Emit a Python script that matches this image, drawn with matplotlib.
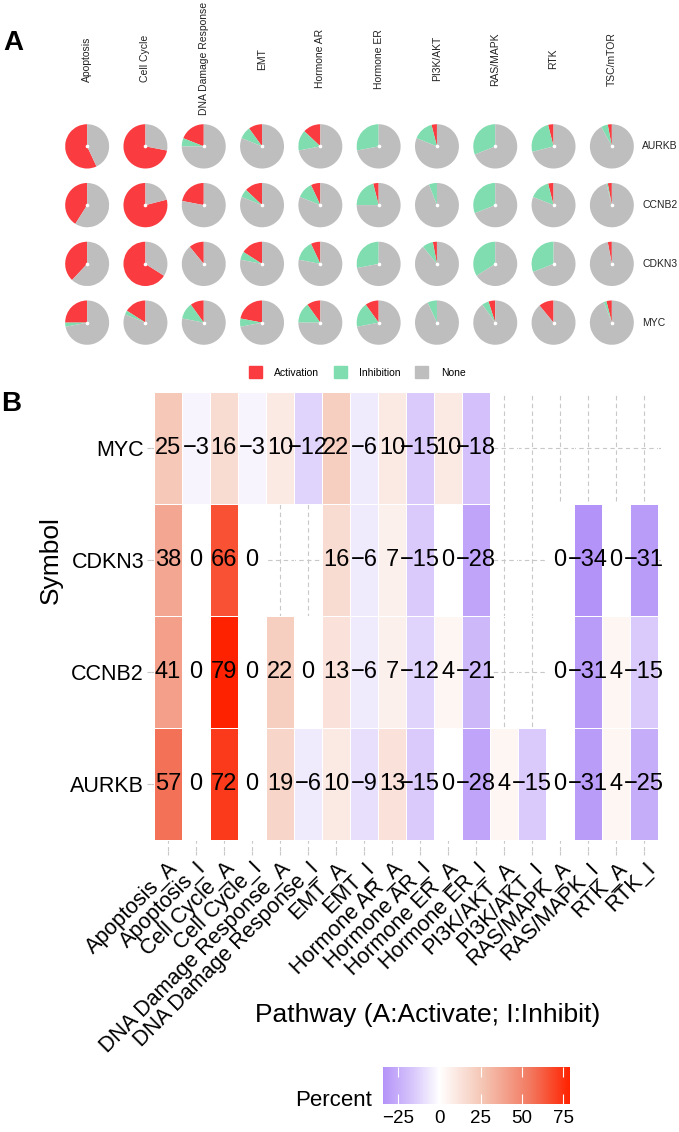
import numpy as np
import matplotlib
matplotlib.use('Agg')
import matplotlib.pyplot as plt
from matplotlib.patches import Patch
from matplotlib.colors import LinearSegmentedColormap, Normalize
from matplotlib.cm import ScalarMappable

plt.rcParams['font.family'] = ['Liberation Sans', 'DejaVu Sans']

# ---- data ----
genes = ['AURKB', 'CCNB2', 'CDKN3', 'MYC']
pathways = ['Apoptosis', 'Cell Cycle', 'DNA Damage Response', 'EMT', 'Hormone AR',
            'Hormone ER', 'PI3K/AKT', 'RAS/MAPK', 'RTK', 'TSC/mTOR']

# panel A: percent activation / inhibition per gene (rows) and pathway (cols)
pie_act = [[57, 72, 19, 10, 13, 0, 4, 0, 4, 3],
           [41, 79, 22, 13, 7, 4, 0, 0, 4, 3],
           [38, 66, 11, 16, 7, 0, 3, 0, 0, 3],
           [25, 16, 10, 22, 10, 10, 0, 5, 11, 4]]
pie_inh = [[0, 0, 6, 9, 15, 28, 15, 31, 25, 5],
           [0, 0, 0, 6, 12, 21, 6, 31, 15, 1],
           [0, 0, 0, 6, 15, 28, 8, 34, 31, 0],
           [3, 3, 12, 6, 15, 18, 7, 5, 0, 2]]

# panel B heatmap
heat_cols = ['Apoptosis_A', 'Apoptosis_I', 'Cell Cycle_A', 'Cell Cycle_I',
             'DNA Damage Response_A', 'DNA Damage Response_I', 'EMT_A', 'EMT_I',
             'Hormone AR_A', 'Hormone AR_I', 'Hormone ER_A', 'Hormone ER_I',
             'PI3K/AKT_A', 'PI3K/AKT_I', 'RAS/MAPK_A', 'RAS/MAPK_I', 'RTK_A', 'RTK_I']
nan = np.nan
heat_rows = ['AURKB', 'CCNB2', 'CDKN3', 'MYC']
aurkb = [57, 0, 72, 0, 19, -6, 10, -9, 13, -15, 0, -28, 4, -15, 0, -31, 4, -25]
ccnb2 = [41, 0, 79, 0, 22, 0, 13, -6, 7, -12, 4, -21, nan, nan, 0, -31, 4, -15]
cdkn3 = [38, 0, 66, 0, nan, nan, 16, -6, 7, -15, 0, -28, nan, nan, 0, -34, 0, -31]
myc = [25, -3, 16, -3, 10, -12, 22, -6, 10, -15, 10, -18, nan, nan, nan, nan, nan, nan]
cbar_ticks = [-25, 0, 25, 50, 75]

# ---- styling ----
W, H = 679, 1132
RED, GREEN, GREY = '#FA3C41', '#7FDDB0', '#BEBEBE'


def fx(x):
    return x / W


def fy(y):
    return 1 - y / H


fig = plt.figure(figsize=(W / 100, H / 100), dpi=100)

# ================= panel A: pies =================
axA = fig.add_axes([fx(58), fy(352), 583 / W, 235 / H])
for r, g in enumerate(genes):
    for c in range(len(pathways)):
        a, i = pie_act[r][c], pie_inh[r][c]
        vals = [a, i, 100 - a - i]
        axA.pie(vals, colors=[RED, GREEN, GREY], startangle=90, counterclock=True,
                center=(c, 3 - r), radius=0.377, wedgeprops=dict(linewidth=0))
        axA.plot(c, 3 - r, 'o', color='white', ms=1.6, zorder=5)
axA.set_xlim(-0.5, 9.5)
axA.set_ylim(-0.5, 3.5)
axA.set_aspect('auto')
axA.axis('off')
for c, p in enumerate(pathways):
    axA.text(c, 4.49, p, rotation=90, ha='center', va='center', fontsize=7.5,
             color='#222222', clip_on=False)
for r, g in enumerate(genes):
    axA.text(9.52, 3 - r, g, ha='left', va='center', fontsize=7.5,
             color='#222222', clip_on=False)

handles = [Patch(color=RED), Patch(color=GREEN), Patch(color=GREY)]
fig.legend(handles, ['Activation', 'Inhibition', 'None'], loc='center',
           bbox_to_anchor=(fx(357), fy(372)), ncol=3, frameon=False, fontsize=7.5,
           handlelength=1.25, handleheight=1.25, handletextpad=1.2, columnspacing=1.4)

fig.text(fx(3), fy(43), 'A', fontsize=20, fontweight='bold', va='center', ha='left')
fig.text(fx(1), fy(404), 'B', fontsize=20, fontweight='bold', va='center', ha='left')

# ================= panel B: heatmap =================
Z = np.ma.masked_invalid(np.array([aurkb, ccnb2, cdkn3, myc], dtype=float))
vmin, vmax = -34, 79
z0 = (0 - vmin) / (vmax - vmin)
cmap = LinearSegmentedColormap.from_list('pw', [
    (0.0, '#B493F8'),
    (z0 * 0.55, '#D9C9FB'),
    (z0, '#FFFFFF'),
    (z0 + (1 - z0) * 0.35, '#F4C2B0'),
    (z0 + (1 - z0) * 0.7, '#F2785F'),
    (1.0, '#FF2200')])
norm = Normalize(vmin=vmin, vmax=vmax)

axB = fig.add_axes([fx(151), fy(851), 510 / W, 459 / H])
axB.set_axisbelow(True)
xe = np.arange(len(heat_cols) + 1) - 0.5
ye = np.arange(len(heat_rows) + 1) - 0.5
axB.pcolormesh(xe, ye, Z, cmap=cmap, norm=norm, edgecolor='white', linewidth=0.4)
for r in range(Z.shape[0]):
    for c in range(Z.shape[1]):
        if not np.ma.is_masked(Z[r, c]):
            v = int(Z[r, c])
            s = ('\u2212' + str(-v)) if v < 0 else str(v)
            axB.text(c, r, s, ha='center', va='center', fontsize=17)
axB.set_xlim(-0.6, len(heat_cols) - 0.4)
axB.set_ylim(-0.6, len(heat_rows) - 0.5)
axB.set_xticks(range(len(heat_cols)))
axB.set_xticklabels(heat_cols, rotation=45, ha='right', rotation_mode='anchor', fontsize=15.5)
axB.set_yticks(range(len(heat_rows)))
axB.set_yticklabels(heat_rows, fontsize=15.5)
axB.grid(True, color='#C8C8C8', linestyle=(0, (4, 3)), linewidth=0.8)
axB.tick_params(length=3, color='#C8C8C8', pad=2)
for s in axB.spines.values():
    s.set_visible(False)

fig.text(fx(51), fy(560), 'Symbol', rotation=90, ha='center', va='center', fontsize=19)
fig.text(fx(428), fy(1003), 'Pathway (A:Activate; I:Inhibit)', ha='center', va='top', fontsize=19)

# colorbar
cax = fig.add_axes([fx(383), fy(1104), 187 / W, 37 / H])
cb = fig.colorbar(ScalarMappable(norm=norm, cmap=cmap), cax=cax, orientation='horizontal')
cb.outline.set_visible(False)
cb.set_ticks(cbar_ticks)
cax.tick_params(direction='in', length=7, color='white', width=0.8, labelsize=13.5,
                top=True, pad=4)
fig.text(fx(372), fy(1100), 'Percent', ha='right', va='center', fontsize=16)

fig.savefig('out.png', dpi=100)
